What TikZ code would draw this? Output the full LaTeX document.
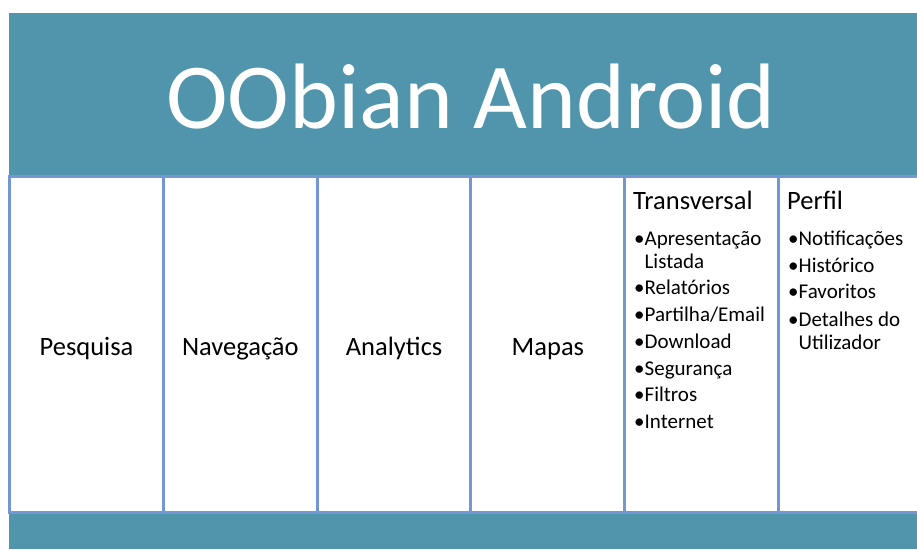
\documentclass[tikz,border=0pt]{standalone}
\usepackage{fontspec}
\setmainfont{Carlito}

\begin{document}
\begin{tikzpicture}[x=1pt,y=-1pt]
            \definecolor{bandteal}{RGB}{80,149,172}
            \definecolor{colblue}{RGB}{116,150,210}
            \tikzset{
                colbox/.style={draw=colblue,line width=3pt,fill=white,minimum width=154pt,minimum height=336pt,inner sep=0pt,text height=24pt,text depth=2pt,font=\fontsize{26.5}{30}\selectfont},
                headtxt/.style={anchor=base west,inner sep=0pt,font=\fontsize{26.5}{30}\selectfont},
                itemtxt/.style={anchor=base west,inner sep=0pt,font=\fontsize{21}{24}\selectfont}
            }
            \useasboundingbox (0,0) rectangle (917,549);
            \fill[bandteal] (9,13) rectangle (940,549);
            \node[white,anchor=base,inner sep=0pt,font=\fontsize{93}{100}\selectfont] (title) at (471,128) {OObian Android};
            \foreach \i/\lab in {1/Pesquisa,2/Navegação,3/Analytics,4/Mapas,5/{},6/{}}{
                \node[colbox] (col\i) at ({86.5+153.8*(\i-1)},344) {\lab};
            }
            \node[headtxt] (trans) at (633,209) {Transversal};
            \node[headtxt] (perfil) at (787,209) {Perfil};
            \foreach \t/\y [count=\k] in {•Apresentação/245,\phantom{•}Listada/268,•Relatórios/294,{•Partilha/Email}/321,•Download/348,•Segurança/375,•Filtros/401,•Internet/428}{
                \node[itemtxt] (tr\k) at (634,\y) {\t};
            }
            \foreach \t/\y [count=\k] in {•Notificações/245,•Histórico/272,•Favoritos/298,•Detalhes do/326,\phantom{•}Utilizador/349}{
                \node[itemtxt] (pf\k) at (788,\y) {\t};
            }
        \end{tikzpicture}
\end{document}
